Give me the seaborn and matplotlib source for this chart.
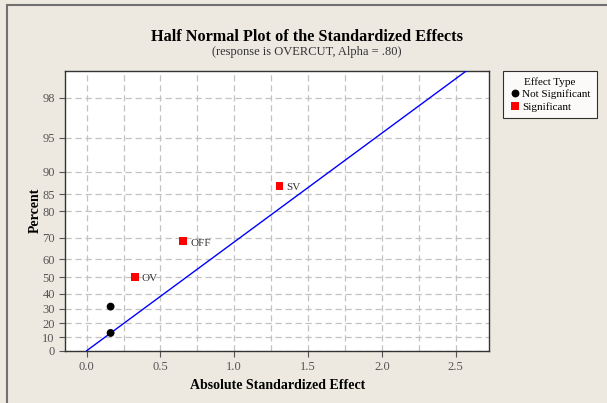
import math
from statistics import NormalDist

import numpy as np
import pandas as pd
import seaborn as sns
import matplotlib.pyplot as plt
from matplotlib.patches import Rectangle
from matplotlib.ticker import MultipleLocator

# efectele standardizate (valori absolute)
effect_names = ['', '', 'OV', 'OFF', 'SV']
abs_effect = [0.162, 0.162, 0.326, 0.653, 1.306]
percent = [12.96, 31.48, 50.0, 68.52, 87.04]
effect_type = ['Not Significant', 'Not Significant', 'Significant', 'Significant', 'Significant']

# linia de referinta (trece prin origine)
line_sigma = 1.0
line_x = [0.0, 2.8]

y_ticks = [0, 10, 20, 30, 40, 50, 60, 70, 80, 85, 90, 95, 98]
x_ticks = [0.0, 0.5, 1.0, 1.5, 2.0, 2.5]

df = pd.DataFrame({'effect': abs_effect, 'percent': percent, 'type': effect_type, 'name': effect_names})

nd = NormalDist()


def fwd(p):
    p = np.clip(np.asarray(p, dtype=float), 0, 99.9999)
    return np.array([nd.inv_cdf(0.5 + v / 200.0) for v in np.ravel(p)]).reshape(np.shape(p))


def inv(z):
    z = np.asarray(z, dtype=float)
    return np.array([100.0 * math.erf(v / math.sqrt(2)) for v in np.ravel(z)]).reshape(np.shape(z))


bg = '#ede9e0'
serif = ['Liberation Serif', 'DejaVu Serif']
plt.rcParams['font.family'] = serif

fig = plt.figure(figsize=(6.07, 4.03), dpi=100, facecolor=bg)
ax = fig.add_axes([65.3 / 607, 1 - 350.7 / 403, (489.3 - 65.3) / 607, (350.7 - 70.7) / 403])
ax.set_facecolor('white')

sns.scatterplot(data=df, x='effect', y='percent', hue='type', style='type',
                palette={'Not Significant': 'black', 'Significant': '#ff0000'},
                markers={'Not Significant': 'o', 'Significant': 's'},
                s=32, linewidth=0, ax=ax, zorder=4)

line_y = inv(np.array(line_x) / line_sigma)
ax.plot(line_x, line_y, color='#0000ff', lw=1.0, zorder=3)

for _, r in df.iterrows():
    if r['name']:
        ax.annotate(r['name'], (r['effect'], r['percent']), xytext=(5, -3),
                    textcoords='offset points', fontsize=8, color='#333333')

ax.set_yscale('function', functions=(fwd, inv))
ax.set_ylim(0, 98.995)
ax.set_xlim(-0.145, 2.728)
ax.set_yticks(y_ticks)
ax.set_yticklabels([str(t) for t in y_ticks])
ax.set_xticks(x_ticks)
ax.set_xticklabels([f'{t:.1f}' for t in x_ticks])
ax.yaxis.set_minor_locator(plt.NullLocator())
ax.xaxis.set_minor_locator(MultipleLocator(0.25))
ax.grid(True, which='both', axis='x', color='#c2c2c2', ls=(0, (5, 3)), lw=0.9)
ax.grid(True, which='major', axis='y', color='#c2c2c2', ls=(0, (5, 3)), lw=0.9)
ax.set_axisbelow(True)
ax.tick_params(axis='both', which='major', labelsize=9, labelcolor='#555555', color='#555555', length=4)
ax.tick_params(axis='x', which='minor', length=0)
for sp in ax.spines.values():
    sp.set_color('#333333')
    sp.set_linewidth(1.0)

ax.set_xlabel('Absolute Standardized Effect', fontsize=10, fontweight='bold', labelpad=4)
ax.set_ylabel('Percent', fontsize=10, fontweight='bold')
ax.yaxis.set_label_coords(-0.055, 0.5)

sns.move_legend(ax, 'upper left', bbox_to_anchor=(1.032, 1.0), title='Effect Type',
                frameon=True, borderaxespad=0, fontsize=8, title_fontsize=8,
                fancybox=False, edgecolor='black', handletextpad=0.2,
                handlelength=1.0, labelspacing=0.25, borderpad=0.55)
leg = ax.get_legend()
leg.get_frame().set_linewidth(0.8)

fig.text(0.506, 1 - 37 / 403, 'Half Normal Plot of the Standardized Effects',
         ha='center', va='center', fontsize=11.7, fontweight='bold')
fig.text(0.506, 1 - 52 / 403, '(response is OVERCUT, Alpha = .80)',
         ha='center', va='center', fontsize=9, color='#333333')

fig.add_artist(Rectangle((7 / 607, -0.1), 1.5, 1.1 - 5 / 403, transform=fig.transFigure,
                         fill=False, edgecolor='#707070', lw=1.5))

fig.savefig('out.png', dpi=100, facecolor=bg)
